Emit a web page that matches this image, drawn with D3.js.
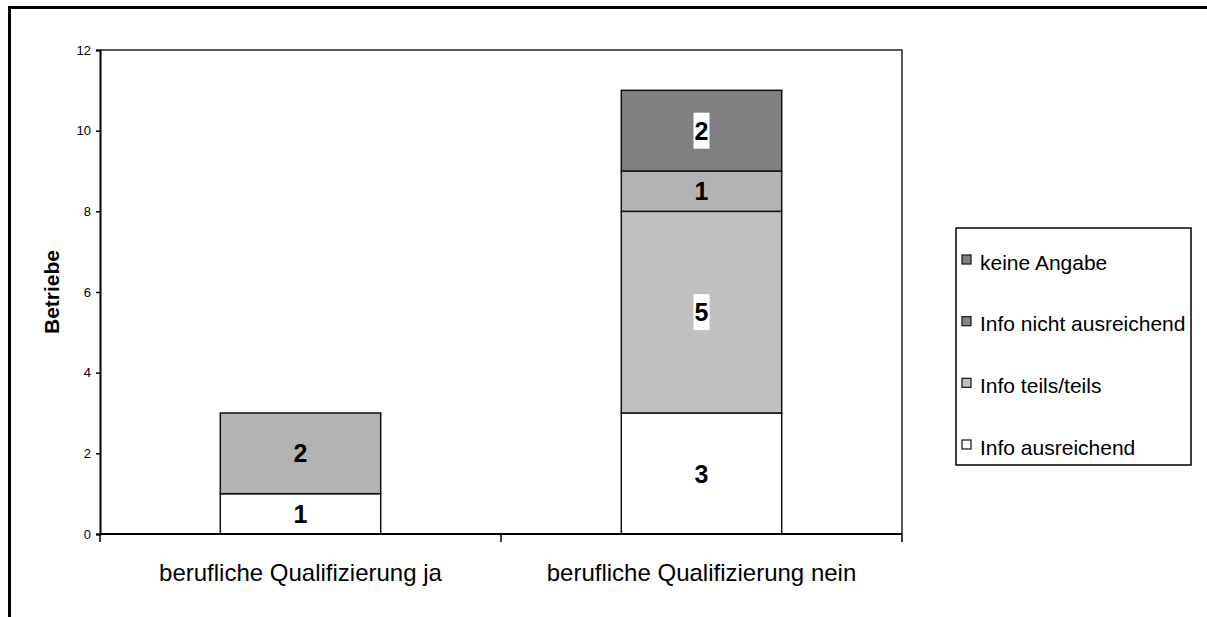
<!DOCTYPE html>
<html>
<head>
<meta charset="utf-8">
<script src="https://cdn.jsdelivr.net/npm/d3@7"></script>
<style>
  body { margin: 0; background: #fff; }
  svg { display: block; font-family: "Liberation Sans", Arial, sans-serif; }
</style>
</head>
<body>
<div class="svg-container"></div>
<script>
// categories and stacked series (bottom to top)
const categories = ["berufliche Qualifizierung ja", "berufliche Qualifizierung nein"];
const seriesNames = ["Info ausreichend", "Info teils/teils", "Info nicht ausreichend", "keine Angabe"];
const ausreichend = [1, 3];
const teilsTeils = [0, 5];
const nichtAusreichend = [2, 1];
const keineAngabe = [0, 2];
const yTicks = [0, 2, 4, 6, 8, 10, 12];

const seriesColors = ["#ffffff", "#c0c0c0", "#b3b3b3", "#808080"];
const legendColors = ["#ffffff", "#c0c0c0", "#868686", "#808080"];
const boxedLabels = ["Info teils/teils", "keine Angabe"];

const width = 1207, height = 617;
const plot = { left: 100, right: 902, top: 50, bottom: 534 };

const svg = d3.select('.svg-container').append('svg')
    .attr('width', width)
    .attr('height', height);

// outer frame (only top + left visible)
svg.append('path')
    .attr('d', `M9.5,${height} V7.5 H${width}`)
    .attr('fill', 'none')
    .attr('stroke', '#000')
    .attr('stroke-width', 3);

const rows = categories.map((c, i) => ({
    category: c,
    "Info ausreichend": ausreichend[i],
    "Info teils/teils": teilsTeils[i],
    "Info nicht ausreichend": nichtAusreichend[i],
    "keine Angabe": keineAngabe[i]
}));

const stacked = d3.stack().keys(seriesNames)(rows);

const xScale = d3.scaleBand()
    .domain(categories)
    .range([plot.left, plot.right])
    .paddingInner(0.6)
    .paddingOuter(0.3);

const yScale = d3.scaleLinear()
    .domain([0, 12])
    .range([plot.bottom, plot.top]);

const color = d3.scaleOrdinal().domain(seriesNames).range(seriesColors);

// plot area frame: top + right
svg.append('path')
    .attr('d', `M${plot.left},${plot.top} H${plot.right} V${plot.bottom}`)
    .attr('fill', 'none')
    .attr('stroke', '#222')
    .attr('stroke-width', 1.5);

// bars
const layers = svg.append('g').selectAll('g')
    .data(stacked)
    .enter().append('g')
    .attr('fill', d => color(d.key));

layers.selectAll('rect')
    .data(d => d.filter(s => s[1] - s[0] > 0))
    .enter().append('rect')
    .attr('x', d => xScale(d.data.category))
    .attr('width', xScale.bandwidth())
    .attr('y', d => yScale(d[1]))
    .attr('height', d => yScale(d[0]) - yScale(d[1]))
    .attr('stroke', '#111')
    .attr('stroke-width', 1.5);

// value labels
stacked.forEach(layer => {
    layer.filter(s => s[1] - s[0] > 0).forEach(s => {
        const cx = xScale(s.data.category) + xScale.bandwidth() / 2;
        const cy = yScale((s[0] + s[1]) / 2);
        const g = svg.append('g');
        if (boxedLabels.includes(layer.key)) {
            g.append('rect')
                .attr('x', cx - 8)
                .attr('y', cy - 18)
                .attr('width', 16)
                .attr('height', 36)
                .attr('fill', '#fff');
        }
        g.append('text')
            .attr('x', cx)
            .attr('y', cy)
            .attr('dy', '0.36em')
            .attr('text-anchor', 'middle')
            .style('font-size', '25px')
            .style('font-weight', 'bold')
            .text(s[1] - s[0]);
    });
});

// y axis
const yAxis = svg.append('g')
    .attr('transform', `translate(${plot.left},0)`)
    .call(d3.axisLeft(yScale).tickValues(yTicks).tickSize(4).tickPadding(5));
yAxis.select('.domain').attr('stroke', '#000').attr('stroke-width', 2);
yAxis.selectAll('.tick line').attr('stroke', '#000').attr('stroke-width', 1.5);
yAxis.selectAll('.tick text')
    .style('font-size', '13px')
    .style('font-family', '"Liberation Sans", Arial, sans-serif')
    .attr('fill', '#000');

// x axis line + category separator ticks
const xAxis = svg.append('g');
xAxis.append('line')
    .attr('x1', plot.left).attr('x2', plot.right)
    .attr('y1', plot.bottom).attr('y2', plot.bottom)
    .attr('stroke', '#000').attr('stroke-width', 2);
const step = xScale.step();
const sepTicks = [plot.left].concat(categories.map(c => xScale(c) + xScale.bandwidth() + step * xScale.paddingInner() / 2));
sepTicks[sepTicks.length - 1] = plot.right;
xAxis.selectAll('.sep')
    .data(sepTicks)
    .enter().append('line')
    .attr('x1', d => d).attr('x2', d => d)
    .attr('y1', plot.bottom).attr('y2', plot.bottom + 8)
    .attr('stroke', '#000').attr('stroke-width', 1.5);
xAxis.selectAll('.cat')
    .data(categories)
    .enter().append('text')
    .attr('x', d => xScale(d) + xScale.bandwidth() / 2)
    .attr('y', 581)
    .attr('text-anchor', 'middle')
    .style('font-size', '24px')
    .text(d => d);

// y title
svg.append('text')
    .attr('transform', 'translate(59,292) rotate(-90)')
    .attr('text-anchor', 'middle')
    .style('font-size', '21px')
    .style('font-weight', 'bold')
    .text('Betriebe');

// legend
const legend = svg.append('g');
legend.append('rect')
    .attr('x', 956).attr('y', 228)
    .attr('width', 235).attr('height', 237)
    .attr('fill', '#fff')
    .attr('stroke', '#000')
    .attr('stroke-width', 1.5);

const legendItems = seriesNames.slice().reverse();
const legendY = d3.scalePoint().domain(legendItems).range([262, 447]);
legendItems.forEach(name => {
    const y = legendY(name);
    const i = seriesNames.indexOf(name);
    legend.append('rect')
        .attr('x', 962).attr('y', y - 7)
        .attr('width', 9).attr('height', 9)
        .attr('fill', legendColors[i])
        .attr('stroke', '#222')
        .attr('stroke-width', 1.3);
    legend.append('text')
        .attr('x', 980).attr('y', y)
        .attr('dy', '0.36em')
        .style('font-size', '21px')
        .text(name);
});
</script>
</body>
</html>
